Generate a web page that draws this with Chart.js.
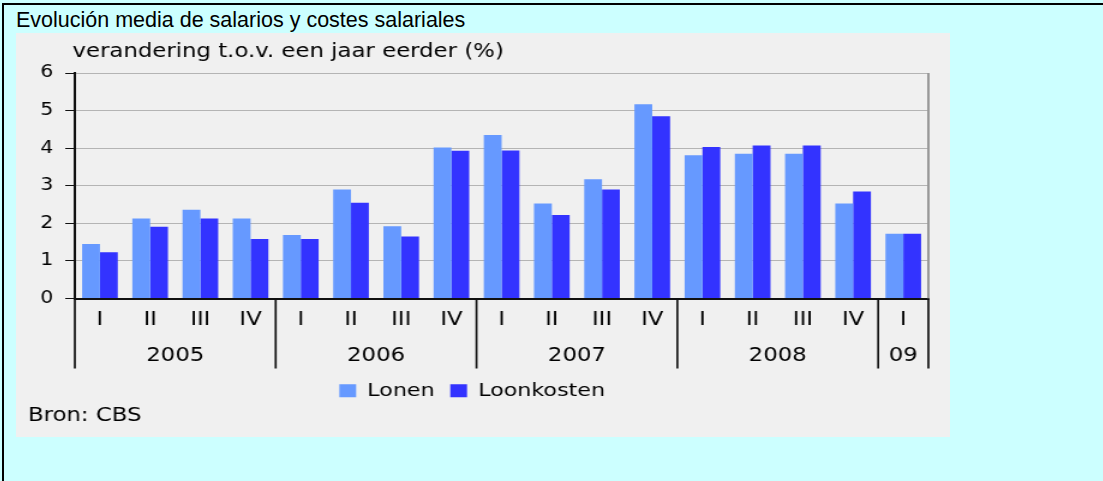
<!DOCTYPE html>
<html>
<head>
<meta charset="utf-8">
<script src="https://cdn.jsdelivr.net/npm/chart.js@4"></script>
<style>
  html, body { margin: 0; padding: 0; }
  body { width: 1103px; height: 481px; background: #ccffff; overflow: hidden; position: relative; }
  #frame { position: absolute; left: 2px; top: 3px; width: 1200px; height: 600px; border-top: 2px solid #000; border-left: 2px solid #000; }
  #title { position: absolute; left: 16px; top: 8px; font: 21.5px "Liberation Sans", Arial, sans-serif; line-height: 24px; color: #000; white-space: nowrap; }
  #panel { position: absolute; left: 16px; top: 33px; width: 934px; height: 404px; background: #f0f0f0; }
  #chart { position: absolute; left: 0; top: 0; }
</style>
</head>
<body>
<div id="frame"></div>
<div id="title">Evolución media de salarios y costes salariales</div>
<div id="panel">
  <!-- drawn 778 wide and stretched to 934 so the text comes out wide like the original -->
  <canvas id="chart" width="778" height="404" style="width:933.6px;height:404px"></canvas>
</div>
<script>
// quarter labels and year groups
const quarters = ['I', 'II', 'III', 'IV', 'I', 'II', 'III', 'IV', 'I', 'II', 'III', 'IV', 'I', 'II', 'III', 'IV', 'I'];
const years = ['2005', '2006', '2007', '2008', '09'];
const yearSpans = [4, 4, 4, 4, 1];

// % change on a year earlier
const lonen = [1.45, 2.13, 2.36, 2.13, 1.69, 2.9, 1.92, 4.02, 4.35, 2.53, 3.17, 5.17, 3.81, 3.85, 3.85, 2.53, 1.72];
const loonkosten = [1.23, 1.91, 2.13, 1.58, 1.58, 2.55, 1.65, 3.93, 3.94, 2.22, 2.9, 4.85, 4.03, 4.07, 4.07, 2.85, 1.72];

const yMin = 0;
const yMax = 6;
const yLabel = 'verandering t.o.v. een jaar eerder (%)';
const source = 'Bron: CBS';

const font = 'DejaVu Sans';
Chart.defaults.font.family = font;
Chart.defaults.color = '#000';

// draws the two-level x axis, the right border, the unit label and the source line
const extras = {
    id: 'extras',
    afterDraw(chart) {
        const c = chart.ctx;
        const area = chart.chartArea;
        const x = chart.scales.x;
        c.save();

        // right border of the plot
        c.strokeStyle = '#999';
        c.lineWidth = 2;
        c.beginPath();
        c.moveTo(area.right, area.top);
        c.lineTo(area.right, area.bottom);
        c.stroke();

        // quarter labels
        c.fillStyle = '#000';
        c.font = '19px "' + font + '"';
        c.textAlign = 'center';
        c.textBaseline = 'middle';
        quarters.forEach((q, i) => {
            c.fillText(q, x.getPixelForValue(i), area.bottom + 22);
        });

        // separators and year labels
        c.strokeStyle = '#111';
        c.lineWidth = 1.7;
        let start = 0;
        years.forEach((yr, k) => {
            const end = start + yearSpans[k];
            const left = x.getPixelForValue(start - 0.5);
            const right = x.getPixelForValue(end - 0.5);
            c.beginPath();
            c.moveTo(left, area.bottom);
            c.lineTo(left, area.bottom + 70);
            c.stroke();
            if (k === years.length - 1) {
                c.beginPath();
                c.moveTo(right, area.bottom);
                c.lineTo(right, area.bottom + 70);
                c.stroke();
            }
            c.fillText(yr, (left + right) / 2, area.bottom + 58);
            start = end;
        });

        // unit label and source
        c.font = '19px "' + font + '"';
        c.textAlign = 'left';
        c.fillText(yLabel, 47, 19);
        c.fillText(source, 10, 383);
        c.restore();
    }
};

const chartConfig = {
    type: 'bar',
    data: {
        labels: quarters,
        datasets: [{
            label: 'Lonen',
            data: lonen,
            backgroundColor: '#6699ff',
            borderWidth: 0
        }, {
            label: 'Loonkosten',
            data: loonkosten,
            backgroundColor: '#3333ff',
            borderWidth: 0
        }]
    },
    options: {
        responsive: false,
        devicePixelRatio: 1,
        animation: false,
        datasets: {
            bar: { categoryPercentage: 0.71, barPercentage: 1 }
        },
        layout: {
            padding: { top: 40, right: 18, bottom: 27, left: 0 }
        },
        plugins: {
            legend: {
                position: 'bottom',
                labels: {
                    boxWidth: 14,
                    boxHeight: 13,
                    padding: 13,
                    font: { size: 18.5 },
                    color: '#000'
                }
            },
            tooltip: { enabled: false },
            title: { display: false }
        },
        scales: {
            x: {
                grid: { display: false },
                ticks: { display: false },
                border: { color: '#111', width: 2 },
                afterFit: scale => { scale.height = 70; }
            },
            y: {
                min: yMin,
                max: yMax,
                ticks: {
                    stepSize: 1,
                    padding: 10,
                    font: { size: 17 },
                    color: '#000'
                },
                grid: {
                    color: '#b4b4b4',
                    lineWidth: 1,
                    tickColor: '#111',
                    tickLength: 8
                },
                border: { color: '#111', width: 2 },
                afterFit: scale => { scale.width = 49; }
            }
        }
    },
    plugins: [extras]
};

const salaryChart = new Chart(document.getElementById('chart'), chartConfig);
</script>
</body>
</html>
